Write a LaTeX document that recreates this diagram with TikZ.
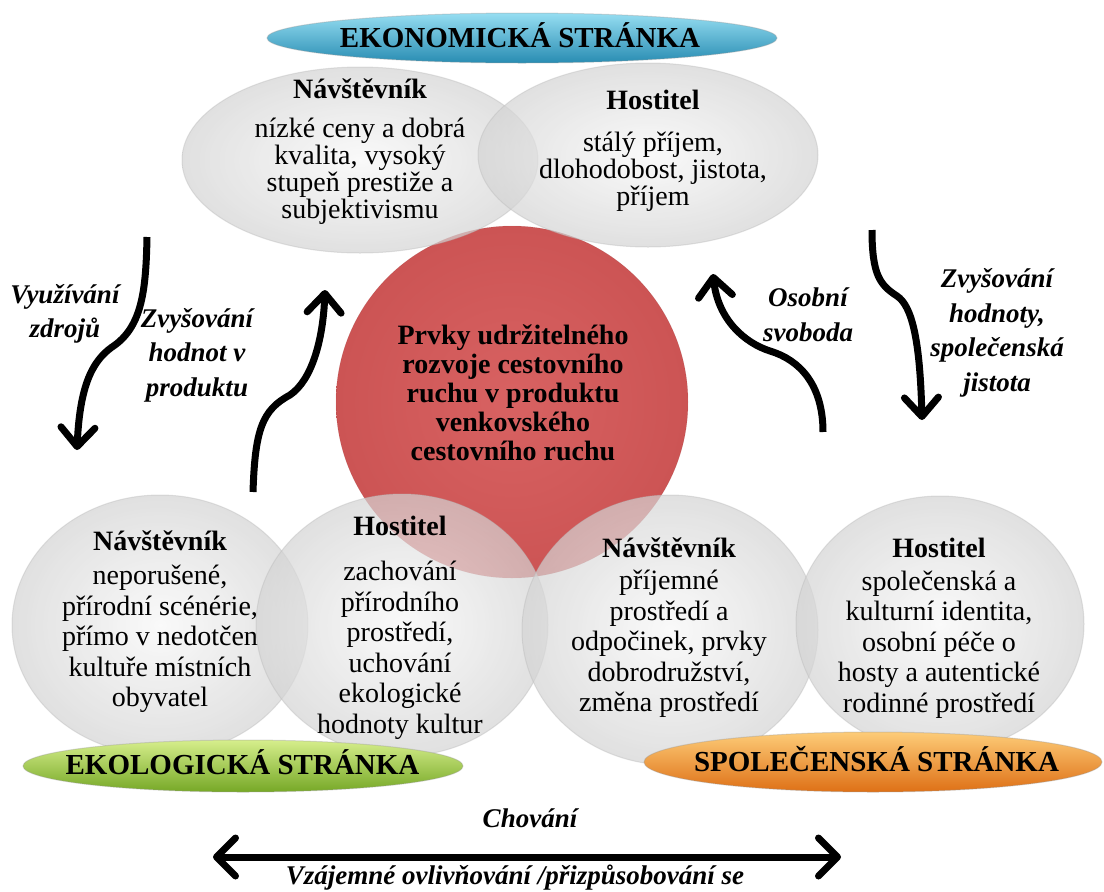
\documentclass[tikz,border=0pt]{standalone}
\usepackage{fontspec}
\setmainfont{Liberation Serif}
\usetikzlibrary{arrows.meta,shapes.geometric}
\setlength{\lineskiplimit}{-100pt}
\definecolor{bubin}{RGB}{248,248,248}
\definecolor{bubout}{RGB}{212,212,212}
\definecolor{redin}{RGB}{216,98,98}
\definecolor{redout}{RGB}{204,84,84}
\definecolor{ekoT}{RGB}{150,222,242}
\definecolor{ekoM}{RGB}{78,186,218}
\definecolor{ekoB}{RGB}{40,140,178}
\definecolor{eloT}{RGB}{214,238,140}
\definecolor{eloM}{RGB}{162,206,62}
\definecolor{eloB}{RGB}{118,168,38}
\definecolor{spoT}{RGB}{253,204,120}
\definecolor{spoM}{RGB}{246,152,52}
\definecolor{spoB}{RGB}{222,112,22}
\begin{document}
\begin{tikzpicture}
[
x=1pt,y=-1pt,
bubble/.style={ellipse,inner sep=0pt,shade,inner color=bubin,outer color=bubout,fill opacity=.7,draw=gray!55,draw opacity=.4,line width=1pt},
core/.style={circle,inner sep=0pt,shade,inner color=redin,outer color=redout,draw=redout!70!black,draw opacity=.25},
banner/.style={ellipse,inner sep=0pt,draw=black!40,draw opacity=.35,line width=1pt},
head/.style={anchor=base,font=\fontsize{29}{29}\selectfont\bfseries},
txt/.style={align=center,font=\fontsize{28}{30.5}\selectfont},
toptxt/.style={align=center,font=\fontsize{28}{27.2}\selectfont},
coretxt/.style={align=center,font=\fontsize{28}{29}\selectfont\bfseries},
lbl/.style={align=center,font=\fontsize{27}{34.5}\selectfont\bfseries\itshape},
flow/.style={line width=7pt,-{Straight Barb[length=19pt,width=34pt,round]}},
both/.style={line width=7pt,{Straight Barb[length=19pt,width=38pt,round]}-{Straight Barb[length=19pt,width=38pt,round]}}
]
\fill[white] (0,0) rectangle (1104,892);
\useasboundingbox (0,0) rectangle (1104,892);
\node[core,minimum size=352pt] (prvky) at (512,402) {};
\node[bubble,minimum width=356pt,minimum height=186pt] (ekN) at (360,160) {};
\node[bubble,minimum width=340pt,minimum height=184pt] (ekH) at (648,155) {};
\node[bubble,minimum width=296pt,minimum height=260pt] (olN) at (160,625) {};
\node[bubble,minimum width=292pt,minimum height=262pt] (olH) at (402,625) {};
\node[bubble,minimum width=296pt,minimum height=270pt] (spN) at (670,630) {};
\node[bubble,minimum width=288pt,minimum height=256pt] (spH) at (940,624) {};
\node[banner,top color=ekoT,middle color=ekoM,bottom color=ekoB,minimum width=510pt,minimum height=50pt] (eko) at (522,38) {};
\node[banner,top color=eloT,middle color=eloM,bottom color=eloB,minimum width=440pt,minimum height=52pt] (elo) at (243,766) {};
\node[banner,top color=spoT,middle color=spoM,bottom color=spoB,minimum width=458pt,minimum height=60pt] (spo) at (873,762) {};
\node[head] (ekoT) at (520,47.5) {EKONOMICKÁ STRÁNKA};
\node[head] (eloT) at (242.5,774.5) {EKOLOGICKÁ STRÁNKA};
\node[head] (spoT) at (876.5,771) {SPOLEČENSKÁ STRÁNKA};
\node[coretxt] (prvkyT) at (513,393) {Prvky udržitelného\\rozvoje cestovního\\ruchu v produktu\\venkovského\\cestovního ruchu};
\node[toptxt] (ekNT) at (360,152) {\textbf{Návštěvník}\\[11pt]nízké ceny a dobrá\\kvalita, vysoký\\stupeň prestiže a\\subjektivismu};
\node[toptxt] (ekHT) at (653,151) {\textbf{Hostitel}\\[14.5pt]stálý příjem,\\dlohodobost, jistota,\\příjem};
\node[txt] (olNT) at (160,622) {\textbf{Návštěvník}\\[3.5pt]neporušené,\\přírodní scénérie,\\přímo v nedotčen\\kultuře místních\\obyvatel};
\node[txt] (olHT) at (400,628) {\textbf{Hostitel}\\[14.5pt]zachování\\přírodního\\prostředí,\\uchování\\ekologické\\hodnoty kultur};
\node[txt] (spNT) at (669,628) {\textbf{Návštěvník}\\[1.5pt]příjemné\\prostředí a\\odpočinek, prvky\\dobrodružství,\\změna prostředí};
\node[txt] (spHT) at (939,628) {\textbf{Hostitel}\\[2.5pt]společenská a\\kulturní identita,\\osobní péče o\\hosty a autentické\\rodinné prostředí};
\node[lbl] (vyuz) at (65,314) {Využívání\\zdrojů};
\node[lbl] (zvHod) at (197,355) {Zvyšování\\hodnot v\\produktu};
\node[lbl] (osob) at (808,315) {Osobní\\svoboda};
\node[lbl] (zvSpo) at (997,333) {Zvyšování\\hodnoty,\\společenská\\jistota};
\node[lbl] (chov) at (530,818) {Chování};
\node[lbl] (vzaj) at (515,878) {Vzájemné ovlivňování /přizpůsobování se};
\coordinate (a0) at (147,237);
\coordinate (a1) at (77,450);
\coordinate (b0) at (253,492);
\coordinate (b1) at (325,290);
\coordinate (c0) at (823,432);
\coordinate (c1) at (713,274);
\coordinate (d0) at (872,230);
\coordinate (d1) at (922,420);
\coordinate (e0) at (213,857);
\coordinate (e1) at (841,857);
\draw[flow] (a0) .. controls (146,290) and (142,325) .. (115,345) .. controls (95,358) and (80,380) .. (a1);
\draw[flow] (b0) .. controls (255,430) and (262,410) .. (290,395) .. controls (312,380) and (323,340) .. (b1);
\draw[flow] (c0) .. controls (823,385) and (800,360) .. (770,351) .. controls (745,343) and (718,320) .. (c1);
\draw[flow] (d0) .. controls (872,275) and (880,285) .. (897,296) .. controls (912,306) and (920,340) .. (d1);
\draw[both] (e0) -- (e1);
\end{tikzpicture}
\end{document}
